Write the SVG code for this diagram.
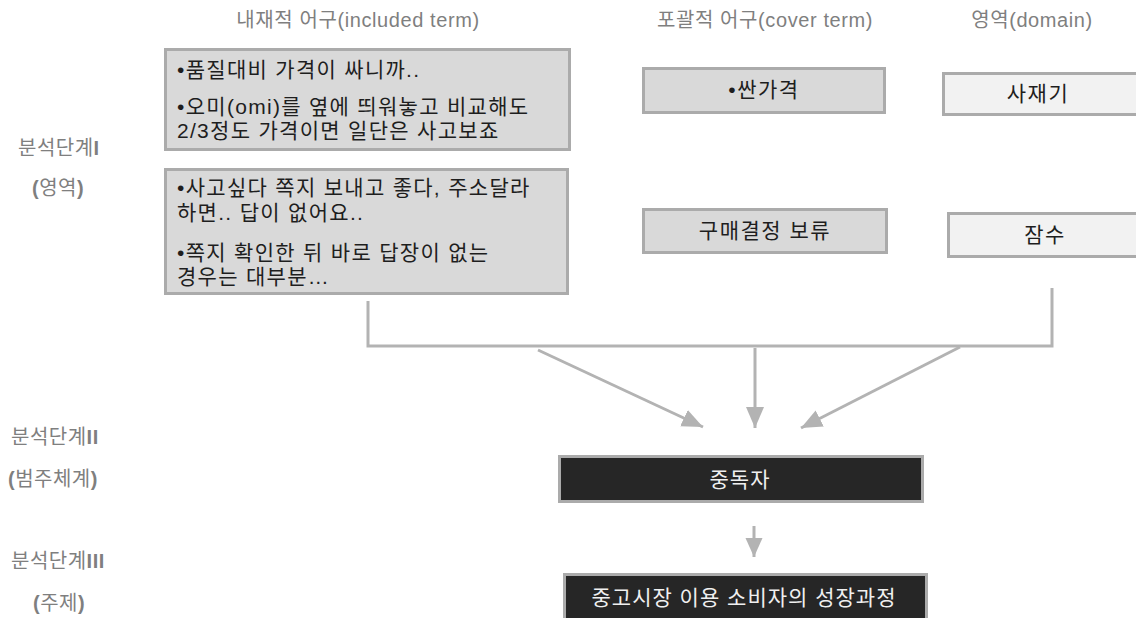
<svg xmlns="http://www.w3.org/2000/svg" width="1136" height="618" viewBox="0 0 1136 618">
<style>
text{font-family:"Liberation Sans","Noto Sans CJK KR",sans-serif;}
.hdr{font-size:20px;fill:#7f7f7f;letter-spacing:0.6px;}
.lbl{font-size:20px;fill:#7f7f7f;letter-spacing:0.5px;}
.b{font-weight:bold;}
.gbox{fill:#d9d9d9;stroke:#ababab;stroke-width:3;}
.lbox{fill:#f2f2f2;stroke:#ababab;stroke-width:3;}
.dbox{fill:#262626;stroke:#ababab;stroke-width:3;}
.t{font-size:21px;fill:#1e1e1e;letter-spacing:1.3px;}
.tc{font-size:21px;fill:#1e1e1e;letter-spacing:1.5px;text-anchor:middle;}
.tw{font-size:21px;fill:#f0f0f0;letter-spacing:1px;text-anchor:middle;}
.conn{stroke:#b3b3b3;stroke-width:3;fill:none;}
</style>
<defs>
<marker id="ah" markerUnits="userSpaceOnUse" markerWidth="22" markerHeight="20" refX="21" refY="9" orient="auto">
<path d="M0,0 L21,9 L0,18 z" fill="#b3b3b3"/>
</marker>
<marker id="ah2" markerUnits="userSpaceOnUse" markerWidth="20" markerHeight="18" refX="19" refY="8.5" orient="auto">
<path d="M0,0 L19,8.5 L0,17 z" fill="#b3b3b3"/>
</marker>
</defs>

<g id="headers">
<text class="hdr" x="358" y="27" text-anchor="middle">내재적 어구(included term)</text>
<text class="hdr" x="765" y="27" text-anchor="middle">포괄적 어구(cover term)</text>
<text class="hdr" x="1032" y="27" text-anchor="middle">영역(domain)</text>
</g>

<g id="stage-labels">
<text class="lbl" x="18" y="155">분석단계<tspan class="b">I</tspan></text>
<text class="lbl" x="32" y="195"><tspan class="b">(</tspan>영역<tspan class="b">)</tspan></text>
<text class="lbl" x="11" y="444">분석단계<tspan class="b">II</tspan></text>
<text class="lbl" x="8" y="486"><tspan class="b">(</tspan>범주체계<tspan class="b">)</tspan></text>
<text class="lbl" x="11" y="568">분석단계<tspan class="b">III</tspan></text>
<text class="lbl" x="33" y="610"><tspan class="b">(</tspan>주제<tspan class="b">)</tspan></text>
</g>

<g id="included-1">
<rect class="gbox" x="165.5" y="49.5" width="404" height="100"/>
<text class="t" x="177" y="77">•품질대비 가격이 싸니까..</text>
<text class="t" x="177" y="114">•오미(omi)를 옆에 띄워놓고 비교해도</text>
<text class="t" x="177" y="138">2/3정도 가격이면 일단은 사고보죠</text>
</g>

<g id="included-2">
<rect class="gbox" x="165.5" y="169.5" width="402" height="124"/>
<text class="t" x="177" y="195">•사고싶다 쪽지 보내고 좋다, 주소달라</text>
<text class="t" x="177" y="220">하면.. 답이 없어요..</text>
<text class="t" x="177" y="260">•쪽지 확인한 뒤 바로 답장이 없는</text>
<text class="t" x="177" y="284">경우는 대부분…</text>
</g>

<g id="cover-1">
<rect class="gbox" x="643.5" y="68.5" width="241" height="44"/>
<text class="tc" x="764" y="97">•싼가격</text>
</g>
<g id="cover-2">
<rect class="gbox" x="643.5" y="209.5" width="243" height="43"/>
<text class="tc" x="765" y="238">구매결정 보류</text>
</g>

<g id="domain-1">
<rect class="lbox" x="943.5" y="73.5" width="196" height="41"/>
<text class="tc" x="1038" y="101">사재기</text>
</g>
<g id="domain-2">
<rect class="lbox" x="948.5" y="213.5" width="191" height="43"/>
<text class="tc" x="1045" y="242">잠수</text>
</g>

<g id="category">
<rect class="dbox" x="559.5" y="456.5" width="363" height="45"/>
<text class="tw" x="740" y="487">중독자</text>
</g>

<g id="theme">
<rect class="dbox" x="564.5" y="574.5" width="362" height="50"/>
<text class="tw" x="744" y="605">중고시장 이용 소비자의 성장과정</text>
</g>

<g id="connectors">
<polyline class="conn" points="368,301 368,346 1052,346 1052,288"/>
<line class="conn" x1="538" y1="350" x2="703" y2="427" marker-end="url(#ah)"/>
<line class="conn" x1="755" y1="348" x2="755" y2="428" marker-end="url(#ah)"/>
<line class="conn" x1="960" y1="347" x2="801" y2="428" marker-end="url(#ah)"/>
<line class="conn" x1="754" y1="526" x2="754" y2="557" marker-end="url(#ah2)"/>
</g>
</svg>
